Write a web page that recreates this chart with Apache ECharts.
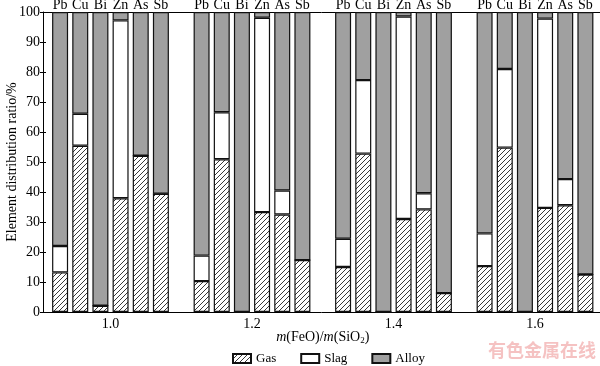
<!DOCTYPE html>
<html>
<head>
<meta charset="utf-8">
<script src="https://cdn.jsdelivr.net/npm/echarts@6/dist/echarts.min.js"></script>
<style>
html,body{margin:0;padding:0;background:#fff;}
#chart{width:600px;height:366px;}
</style>
</head>
<body>
<div id="chart"></div>
<script>
// x categories: m(FeO)/m(SiO2)
const ratios = ['1.0', '1.2', '1.4', '1.6'];
const elements = ['Pb', 'Cu', 'Bi', 'Zn', 'As', 'Sb'];
const yTicks = [0, 10, 20, 30, 40, 50, 60, 70, 80, 90, 100];

// distribution ratios (%) per element, for ratios 1.0, 1.2, 1.4, 1.6
const pbGas   = [13.2, 10.3, 15.0, 15.3];
const pbSlag  = [8.8, 8.5, 9.4, 10.9];
const pbAlloy = [78.0, 81.2, 75.6, 73.8];

const cuGas   = [55.4, 50.9, 52.8, 54.8];
const cuSlag  = [10.7, 15.7, 24.5, 26.2];
const cuAlloy = [33.9, 33.4, 22.7, 19.0];

const biGas   = [2.1, 0, 0, 0];
const biSlag  = [0, 0, 0, 0];
const biAlloy = [97.9, 100, 100, 100];

const znGas   = [37.9, 33.3, 31.0, 34.7];
const znSlag  = [59.3, 64.8, 67.5, 63.1];
const znAlloy = [2.8, 1.9, 1.5, 2.2];

const asGas   = [52.1, 32.5, 34.2, 35.6];
const asSlag  = [0, 8.0, 5.4, 8.7];
const asAlloy = [47.9, 59.5, 60.4, 55.7];

const sbGas   = [39.4, 17.3, 6.3, 12.5];
const sbSlag  = [0, 0, 0, 0];
const sbAlloy = [60.6, 82.7, 93.7, 87.5];

const table = {
  Pb: [pbGas, pbSlag, pbAlloy],
  Cu: [cuGas, cuSlag, cuAlloy],
  Bi: [biGas, biSlag, biAlloy],
  Zn: [znGas, znSlag, znAlloy],
  As: [asGas, asSlag, asAlloy],
  Sb: [sbGas, sbSlag, sbAlloy]
};

// hatch pattern
const pc = document.createElement('canvas');
pc.width = 5; pc.height = 5;
const g = pc.getContext('2d');
g.fillStyle = '#fff';
g.fillRect(0, 0, 5, 5);
g.strokeStyle = '#222';
g.lineWidth = 0.9;
g.beginPath();
g.moveTo(0, 5); g.lineTo(5, 0);
g.moveTo(-1, 1); g.lineTo(1, -1);
g.moveTo(4, 6); g.lineTo(6, 4);
g.stroke();

const SERIF = '"Liberation Serif", "Times New Roman", serif';
const border = { borderColor: '#111', borderWidth: 1.2 };
const fills = [
  { image: pc, repeat: 'repeat' },
  '#ffffff',
  '#a0a0a0'
];
const names = ['Gas', 'Slag', 'Alloy'];

const series = [];
elements.forEach(function (el) {
  for (let k = 0; k < 3; k++) {
    const s = {
      name: names[k],
      type: 'bar',
      xAxisIndex: 0,
      yAxisIndex: 0,
      stack: el,
      barWidth: 16,
      barGap: '26%',
      data: table[el][k],
      itemStyle: Object.assign({ color: fills[k] }, border),
      emphasis: { disabled: true },
      silent: true
    };
    if (k === 2) {
      s.label = {
        show: true,
        position: 'top',
        distance: 0,
        formatter: el,
        fontFamily: SERIF,
        fontSize: 14,
        color: '#000'
      };
    }
    series.push(s);
  }
});

const chart = echarts.init(document.getElementById('chart'), null, { renderer: 'canvas' });
chart.setOption({
  animation: false,
  backgroundColor: '#fff',
  grid: [
    { left: 39.75, right: -5.75, top: 12, bottom: 54, containLabel: false, outerBoundsMode: 'none' },
    { left: 43, right: 0, top: 12, bottom: 54, containLabel: false, outerBoundsMode: 'none' }
  ],
  legend: {
    data: names,
    left: 232,
    top: 352,
    padding: 0,
    itemWidth: 18,
    itemHeight: 9,
    itemGap: 24,
    icon: 'rect',
    textStyle: { fontFamily: SERIF, fontSize: 13, color: '#000' }
  },
  xAxis: [{
    type: 'category',
    gridIndex: 0,
    data: ratios,
    position: 'bottom',
    axisLine: { show: false },
    axisTick: { show: false },
    splitLine: { show: false },
    axisLabel: { fontFamily: SERIF, fontSize: 14, color: '#000', margin: 5 },
    name: '{i|m}(FeO)/{i|m}(SiO{s|2})',
    nameLocation: 'middle',
    nameGap: 17,
    nameMoveOverlap: false,
    nameTextStyle: {
      fontFamily: SERIF, fontSize: 14, color: '#000',
      rich: {
        i: { fontFamily: SERIF, fontSize: 14, fontStyle: 'italic', color: '#000' },
        s: { fontFamily: SERIF, fontSize: 9, color: '#000', padding: [7, 0, 0, 0] }
      }
    }
  }, {
    type: 'value',
    gridIndex: 1,
    min: 0, max: 1,
    position: 'bottom',
    axisLine: { show: true, onZero: false, lineStyle: { color: '#000', width: 1 } },
    axisTick: { show: false },
    axisLabel: { show: false },
    splitLine: { show: false }
  }, {
    type: 'value',
    gridIndex: 1,
    min: 0, max: 1,
    position: 'top',
    axisLine: { show: true, onZero: false, lineStyle: { color: '#000', width: 1 } },
    axisTick: { show: false },
    axisLabel: { show: false },
    splitLine: { show: false }
  }],
  yAxis: [{
    type: 'value',
    gridIndex: 0,
    min: 0,
    max: 100,
    show: false
  }, {
    type: 'value',
    gridIndex: 1,
    min: 0,
    max: 100,
    interval: 10,
    axisLine: { show: true, lineStyle: { color: '#000', width: 1 } },
    axisTick: { show: true, inside: false, length: 3, lineStyle: { color: '#000' } },
    splitLine: { show: false },
    axisLabel: {
      fontFamily: SERIF, fontSize: 14, color: '#000', margin: 3,
      formatter: function (v) { return yTicks.indexOf(v) >= 0 ? String(v) : ''; }
    },
    name: 'Element distribution ratio/%',
    nameLocation: 'middle',
    nameGap: 24,
    nameMoveOverlap: false,
    nameTextStyle: { fontFamily: SERIF, fontSize: 14, color: '#000' }
  }, {
    type: 'value',
    gridIndex: 1,
    position: 'left',
    min: 0,
    max: 100,
    interval: 10,
    axisLine: { show: false },
    axisTick: { show: true, inside: true, length: 3, lineStyle: { color: '#000' } },
    axisLabel: { show: false },
    splitLine: { show: false }
  }],
  graphic: [{
    type: 'text',
    right: 4,
    top: 341,
    silent: true,
    style: {
      text: '有色金属在线',
      font: 'bold 18px "Noto Sans CJK SC"',
      fill: 'rgba(232,120,120,0.45)'
    }
  }],
  series: series
});
</script>
</body>
</html>
